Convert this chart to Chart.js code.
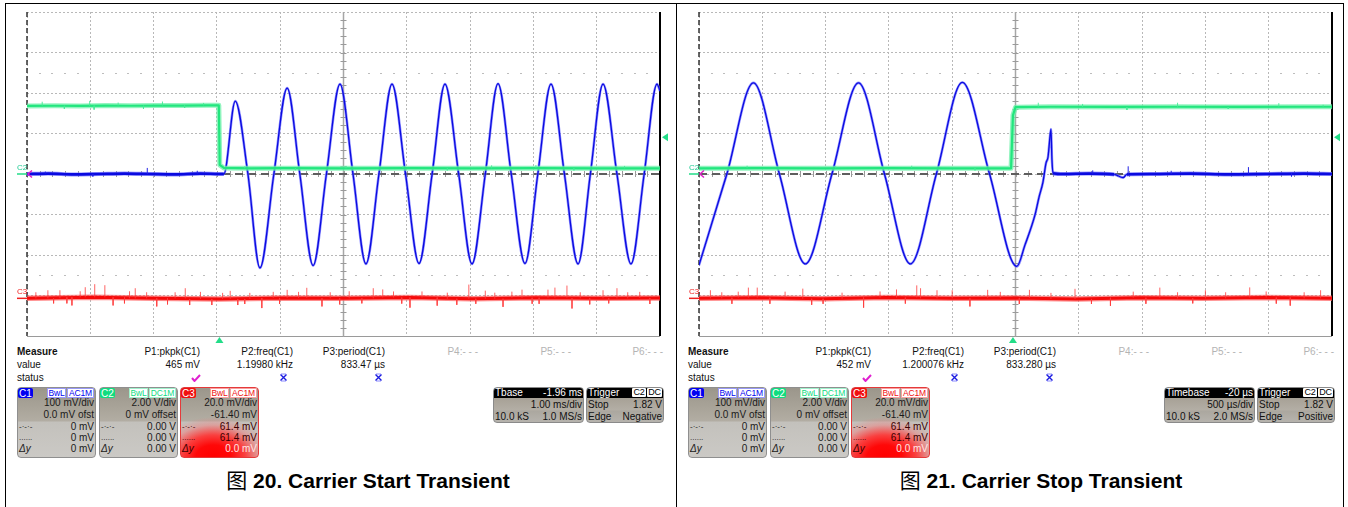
<!DOCTYPE html>
<html><head><meta charset="utf-8">
<script src="https://cdn.jsdelivr.net/npm/chart.js@4.4.1/dist/chart.umd.min.js"></script>
<style>
html,body{margin:0;padding:0;background:#fff}
body{width:1348px;height:507px;position:relative;overflow:hidden;font-family:"Liberation Sans",Arial,sans-serif;color:#111}
.ln{position:absolute;background:#000}
.t{position:absolute;font-size:10px;line-height:12px;white-space:nowrap}
.r{text-align:right}
.box{position:absolute;box-sizing:border-box;border:1.5px solid #8f8f8f;border-radius:4px;overflow:hidden}
.tag{position:absolute;font-size:8.5px;line-height:9px;height:10px;text-align:center;box-sizing:border-box;overflow:hidden;letter-spacing:-0.2px}
canvas{position:absolute}
.cap{position:absolute;top:467px;width:600px;text-align:center;font-size:21px;font-weight:bold;line-height:24px;white-space:nowrap;color:#000}
.cap .zh{font-family:"Noto Sans CJK SC";font-weight:normal}
</style></head><body>
<div class="ln" style="left:5px;top:3px;width:1339px;height:1px"></div>
<div class="ln" style="left:5px;top:3px;width:1px;height:504px"></div>
<div class="ln" style="left:676px;top:3px;width:1px;height:504px"></div>
<div class="ln" style="left:1343px;top:3px;width:1px;height:504px"></div>
<canvas id="scopeStart" width="660" height="341" style="left:12px;top:5px"></canvas>
<canvas id="scopeStop" width="660" height="341" style="left:684px;top:5px"></canvas>
<div id="panels"></div>
<script>
// ---------- channel scales (value -> divisions) ----------
const c1Div = mV => mV / 100;            // C1 100 mV/div, 0 offset
const c2Div = V => V / 2;                // C2 2.00 V/div
const c3Div = mV => (mV - 61.4) / 20;    // C3 20 mV/div, -61.40 mV offset

// ---------- Figure 20: carrier start (time in ms from trigger) ----------
const startRange = [-3.04, 6.96];
const startC1T = [-3.04,-2.7,-2.3,-1.9,-1.5,-1.1,-0.7,-0.3,0.02,0.07,0.25,0.45,0.64,0.86,1.07,1.27,1.48,1.69,1.905,2.11,2.315,2.52,2.726,2.94,3.153,3.36,3.563,3.78,3.99,4.2,4.401,4.61,4.827,5.03,5.238,5.45,5.665,5.86,6.06,6.28,6.502,6.71,6.913,6.96];
const startC1  = [0,1,-1,0,1,0,-1,1,0,0,180,0,-232,0,212,0,-226,0,222,0,-222,0,222,0,-221,0,222,0,-222,0,223,0,-221,0,222,0,-222,0,222,0,-222,0,222,205];
const startC1SpikeT = [-2.75,-2.0,-1.14,-0.35];
const startC1SpikeV = [5,-6,15,7];
const startC2T = [-3.04,-2.6,-2.2,-1.8,-1.4,-1.0,-0.6,-0.2,-0.01,0.005,0.07,0.5,1.0,2.0,3.0,4.0,5.0,6.0,6.96];
const startC2  = [3.36,3.37,3.36,3.38,3.37,3.38,3.38,3.39,3.39,0.45,0.30,0.28,0.29,0.28,0.29,0.28,0.29,0.28,0.28];
const startC2SpikeT = [-2.8,-2.45,-2.05,-1.98,-1.6,-1.2,-0.9,-0.55,-0.25,0.4,1.2,2.0,2.9,3.6,4.3,5.0,5.6,6.4];
const startC2SpikeV = [0.2,-0.15,0.25,-0.2,0.15,-0.15,0.2,-0.12,0.12,0.1,-0.1,0.12,0.1,-0.1,0.15,0.15,-0.1,0.12];
const startC3T = [-3.04,-2,-1,0,1,2,3,4,5,6,6.96];
const startC3  = [0,0.5,0,-0.3,0.2,0,0.4,-0.2,0.3,0,0.2];
const startC3SpikeT = [-2.71,-2.52,-2.41,-2.33,-2.12,-1.97,-1.81,-1.68,-1.33,-0.99,-0.54,-0.47,0.17,0.29,0.48,0.67,1.07,1.38,1.62,1.75,2.43,2.58,3.01,3.44,3.94,4.2,4.48,4.78,4.94,5.19,5.3,5.49,5.57,6.06,6.28,6.64,
  -2.9,-2.62,-2.2,-1.5,-1.42,-1.15,-0.82,-0.7,-0.3,-0.12,0.05,0.4,0.85,0.95,1.25,1.9,2.05,2.25,2.75,2.88,3.2,3.6,3.75,4.05,4.35,4.62,5.05,5.7,5.85,6.15,6.45,6.8];
const startC3SpikeV = [4,4,-3,-4,5,6.5,6,-4,5,-4,5,-3,4,-3,3,-5,4,5,-4,3,5,4,-5,-4,7,4,-4,4,-3,4,5,6,-5,4,5,3,
  3,-2.5,3,-3,3.5,3,-3,3,3.5,-3,3,-2.5,3,-3,3,-3,3.5,-2.5,3,-3,3,3,-3,-2.5,3,3,-3,3,-3,-2.5,3,-3];

// ---------- Figure 21: carrier stop ----------
const stopRange = [-2.48, 2.52];
const stopC1T = [-2.48,-2.26,-2.05,-1.845,-1.64,-1.43,-1.22,-1.015,-0.81,-0.605,-0.4,-0.185,0.03,0.095,0.174,0.206,0.237,0.261,0.277,0.285,0.3,0.308,0.316,0.4,0.6,0.8,0.87,0.9,1.1,1.4,1.7,2.0,2.3,2.52];
const stopC1  = [-225,0,225,0,-222,0,225,0,-222,0,226,0,-228,-175,-101,-57,-20,27,42,67,111,35,2,0,1,-1,-9,-1,0,1,-1,0,1,0];
const stopC1SpikeT = [0.63,0.91,1.25,1.86,2.2];
const stopC1SpikeV = [8,20,8,17,-7];
const stopC2T = [-2.48,-2.0,-1.5,-1.0,-0.5,-0.015,0.0,0.02,0.3,0.8,1.3,1.8,2.3,2.52];
const stopC2  = [0.28,0.29,0.28,0.29,0.28,0.28,2.9,3.3,3.32,3.31,3.32,3.31,3.32,3.32];
const stopC2SpikeT = [-2.1,-1.4,-0.8,-0.3,0.2,0.55,0.9,1.3,1.7,2.1,2.45];
const stopC2SpikeV = [0.12,0.1,0.12,-0.1,0.2,0.15,-0.15,0.2,-0.1,0.18,0.1];
const stopC3T = [-2.48,-2,-1.5,-1,-0.5,0,0.5,1,1.5,2,2.52];
const stopC3  = [0,0.3,-0.2,0.4,0,0.2,-0.3,0.3,0,0.4,0];
const stopC3SpikeT = [-2.39,-2.22,-2.17,-2.09,-2.02,-1.92,-1.66,-1.59,-1.18,-0.92,-0.76,-0.73,-0.6,-0.48,-0.34,-0.2,0.13,0.49,0.77,1.16,1.52,1.87,2.19,2.43,
  -2.3,-1.8,-1.5,-1.35,-1.05,-0.85,-0.1,0.05,0.3,0.62,0.95,1.05,1.3,1.42,1.68,2.0,2.08,2.3];
const stopC3SpikeV = [4,-3,3,5,5,-3,5,-3,-5,4,6,5,4,4,-4,4,4,5,-4,5,4,5,-4,4,
  3,3,-2.5,3,3,-3,3,-3,3,-2.5,3,-3,3,-2.5,3,3,-3,3];

const trigLevelV = 1.82;

// ---------- panel texts ----------
const measureHeads = ['P1:pkpk(C1)','P2:freq(C1)','P3:period(C1)','P4:- - -','P5:- - -','P6:- - -'];
const startMeasureVals = ['465 mV','1.19980 kHz','833.47 µs'];
const stopMeasureVals = ['452 mV','1.200076 kHz','833.280 µs'];
const chanRowLabels = ['','','-·-·-','......','Δy'];
const chanRowsC1 = ['100 mV/div','0.0 mV ofst','0 mV','0 mV','0 mV'];
const chanRowsC2 = ['2.00 V/div','0 mV offset','0.00 V','0.00 V','0.00 V'];
const chanRowsC3 = ['20.0 mV/div','-61.40 mV','61.4 mV','61.4 mV','0.0 mV'];
const startTimebase = ['Tbase','-1.96 ms','1.00 ms/div','10.0 kS','1.0 MS/s'];
const stopTimebase = ['Timebase','-20 µs','500 µs/div','10.0 kS','2.0 MS/s'];
const startTrigger = ['1.82 V','Negative'];
const stopTrigger = ['1.82 V','Positive'];
const captions = ['20. Carrier Start Transient','21. Carrier Stop Transient'];

// ---------- helpers ----------
const pts = (T, V, conv) => T.map((t, i) => ({x: t, y: conv(V[i])}));
function spikes(T, V, bandT, bandV, conv) {
  const out = [];
  T.forEach((t, i) => {
    let j = 0;
    for (let k = 1; k < bandT.length; k++) if (Math.abs(bandT[k] - t) < Math.abs(bandT[j] - t)) j = k;
    const base = bandV[j];
    out.push({x: t, y: conv(base)}, {x: t, y: conv(base + V[i])}, {x: t, y: null});
  });
  return out;
}

const scopeDecor = {
  id: 'scopeDecor',
  beforeDatasetsDraw(chart) {
    const {ctx, chartArea: a, scales: {x, y}} = chart;
    const w = a.right - a.left, h = a.bottom - a.top;
    const cx = x.getPixelForValue((x.min + x.max) / 2);
    const cy = y.getPixelForValue(0);
    ctx.save();
    ctx.fillStyle = '#bdbdbd';
    [2.5, -2.5].forEach(v => {
      const py = Math.round(y.getPixelForValue(v));
      for (let k = 1; k < 50; k++) { if (k % 5 === 0) continue; ctx.fillRect(Math.round(a.left + k * w / 50) - 1, py, 2, 1); }
    });
    ctx.strokeStyle = '#a6a6a6'; ctx.lineWidth = 1.5;
    ctx.beginPath(); ctx.moveTo(cx, a.top); ctx.lineTo(cx, a.bottom); ctx.stroke();
    ctx.lineWidth = 1; ctx.strokeStyle = '#9a9a9a';
    ctx.beginPath();
    for (let k = 1; k < 40; k++) { const py = Math.round(a.top + k * h / 40) + 0.5; ctx.moveTo(cx - 3, py); ctx.lineTo(cx + 3, py); }
    for (let k = 1; k < 50; k++) { const px = Math.round(a.left + k * w / 50) + 0.5; ctx.moveTo(px, cy - 3); ctx.lineTo(px, cy + 3); }
    ctx.stroke();
    ctx.strokeStyle = '#5e5e5e'; ctx.lineWidth = 2; ctx.setLineDash([8, 5]);
    ctx.beginPath(); ctx.moveTo(a.left, cy); ctx.lineTo(a.right, cy); ctx.stroke();
    ctx.strokeStyle = '#333'; ctx.lineWidth = 1.5; ctx.setLineDash([5, 3]);
    ctx.beginPath(); ctx.moveTo(a.left, a.top); ctx.lineTo(a.left, a.bottom); ctx.stroke();
    ctx.setLineDash([]);
    ctx.strokeStyle = '#9a9a9a'; ctx.lineWidth = 1;
    ctx.beginPath(); ctx.moveTo(a.left, Math.round(a.bottom) + 0.5); ctx.lineTo(a.right, Math.round(a.bottom) + 0.5); ctx.stroke();
    ctx.strokeStyle = '#000'; ctx.lineWidth = 2;
    ctx.beginPath(); ctx.moveTo(a.right, a.top); ctx.lineTo(a.right, a.bottom); ctx.stroke();
    ctx.restore();
  },
  afterDatasetsDraw(chart, args, o) {
    const {ctx, chartArea: a, scales: {x, y}} = chart;
    ctx.save();
    const y2 = y.getPixelForValue(o.c2Ground), y3 = y.getPixelForValue(o.c3Ground), y1 = y.getPixelForValue(o.c1Ground);
    ctx.font = '8px "Liberation Sans", Arial';
    ctx.textBaseline = 'middle';
    ctx.fillStyle = '#22cc95'; ctx.fillText('C2', a.left - 10, y2 - 6.5);
    ctx.strokeStyle = '#22dd88'; ctx.lineWidth = 1.5;
    ctx.beginPath(); ctx.moveTo(a.left - 10, y2); ctx.lineTo(a.left, y2); ctx.stroke();
    ctx.fillStyle = '#f02020'; ctx.fillText('C3', a.left - 10, y3 - 6.5);
    ctx.strokeStyle = '#f02020';
    ctx.beginPath(); ctx.moveTo(a.left - 10, y3); ctx.lineTo(a.left, y3); ctx.stroke();
    ctx.strokeStyle = '#e020c8'; ctx.lineWidth = 1.5;
    ctx.beginPath(); ctx.moveTo(a.left + 5, y1 - 3.5); ctx.lineTo(a.left + 1, y1); ctx.lineTo(a.left + 5, y1 + 3.5); ctx.stroke();
    const yt = y.getPixelForValue(o.trigLevel);
    ctx.fillStyle = '#22dd88';
    ctx.beginPath(); ctx.moveTo(a.right + 2, yt); ctx.lineTo(a.right + 8, yt - 4); ctx.lineTo(a.right + 8, yt + 4); ctx.closePath(); ctx.fill();
    const xt = x.getPixelForValue(o.trigTime);
    ctx.beginPath(); ctx.moveTo(xt, a.bottom + 1); ctx.lineTo(xt - 4, a.bottom + 7); ctx.lineTo(xt + 4, a.bottom + 7); ctx.closePath(); ctx.fill();
    ctx.restore();
  }
};

function makeScope(id, range, c1T, c1V, c1sT, c1sV, c2T, c2V, c2sT, c2sV, c3T, c3V, c3sT, c3sV) {
  const thick = (big, small) => c => (Math.abs(c.p0.parsed.y) < 0.06 && Math.abs(c.p1.parsed.y) < 0.06) ? big : small;
  const grid = {color: '#b8b8b8', lineWidth: 1, drawTicks: false};
  const c1 = pts(c1T, c1V, c1Div), c2 = pts(c2T, c2V, c2Div), c3 = pts(c3T, c3V, c3Div);
  return new Chart(document.getElementById(id), {
    type: 'line',
    data: {datasets: [
      {data: spikes(c2sT, c2sV, c2T, c2V, c2Div), borderColor: 'rgba(70,235,150,0.9)', borderWidth: 1, spanGaps: false},
      {data: c2, borderColor: '#22e67e', borderWidth: 2.2},
      {data: c2, borderColor: 'rgba(110,240,170,0.75)', borderWidth: 5},
      {data: spikes(c1sT, c1sV, c1T, c1V, c1Div), borderColor: '#2222e6', borderWidth: 1, spanGaps: false},
      {data: c1, borderColor: '#0a0ae0', borderWidth: 1.3, cubicInterpolationMode: 'monotone', segment: {borderWidth: thick(2.6, 1.3)}},
      {data: c1, borderColor: 'rgba(110,110,255,0.75)', borderWidth: 2.6, cubicInterpolationMode: 'monotone', segment: {borderWidth: thick(4, 2.6)}},
      {data: spikes(c3sT, c3sV, c3T, c3V, c3Div), borderColor: 'rgba(255,60,60,0.8)', borderWidth: 1, spanGaps: false},
      {data: c3, borderColor: '#f50a0a', borderWidth: 3},
      {data: c3, borderColor: 'rgba(255,90,90,0.7)', borderWidth: 5.5}
    ]},
    options: {
      responsive: false, animation: false, devicePixelRatio: 1, events: [],
      layout: {padding: {left: 15, right: 12, top: 7, bottom: 10}},
      plugins: {legend: {display: false}, tooltip: {enabled: false},
        scopeDecor: {c1Ground: c1Div(0), c2Ground: c2Div(0), c3Ground: c3Div(0), trigLevel: c2Div(trigLevelV), trigTime: 0}},
      elements: {point: {radius: 0}, line: {tension: 0, borderJoinStyle: 'round', borderCapStyle: 'butt'}},
      scales: {
        x: {type: 'linear', min: range[0], max: range[1],
            afterBuildTicks: s => { s.ticks = Array.from({length: 11}, (_, i) => ({value: range[0] + i * (range[1] - range[0]) / 10})); },
            ticks: {display: false}, grid, border: {display: false, dash: [2, 2]}},
        y: {type: 'linear', min: -4, max: 4, ticks: {display: false, stepSize: 1}, grid, border: {display: false, dash: [2, 2]}}
      }
    },
    plugins: [scopeDecor]
  });
}

makeScope('scopeStart', startRange, startC1T, startC1, startC1SpikeT, startC1SpikeV, startC2T, startC2, startC2SpikeT, startC2SpikeV, startC3T, startC3, startC3SpikeT, startC3SpikeV);
makeScope('scopeStop', stopRange, stopC1T, stopC1, stopC1SpikeT, stopC1SpikeV, stopC2T, stopC2, stopC2SpikeT, stopC2SpikeV, stopC3T, stopC3, stopC3SpikeT, stopC3SpikeV);

// ---------- panels ----------
const T = (x, yc, s, st = '') => `<div class="t" style="left:${x}px;top:${yc - 6}px;${st}">${s}</div>`;
const TR = (xr, yc, s, st = '') => `<div class="t r" style="left:${xr - 150}px;width:150px;top:${yc - 6}px;${st}">${s}</div>`;
const grayBg = 'linear-gradient(to bottom,#9b968b 0px,#a9a499 20px,#b2ada3 33px,#c3c1bc 34px,#cbc9c5 100%)';
const redBg = 'radial-gradient(ellipse 58px 40px at 42% 100%,#ff0000 0%,#ff0808 30%,rgba(255,50,50,.9) 55%,rgba(245,120,120,.45) 80%,rgba(240,150,150,0) 100%),' + grayBg;
const checkIcon = (x, y) => `<svg style="position:absolute;left:${x}px;top:${y}px" width="10" height="8"><path d="M1,4 L3.5,7 L9,1" stroke="#e020d0" stroke-width="2" fill="none"/></svg>`;
const xIcon = (x, y) => `<svg style="position:absolute;left:${x}px;top:${y}px" width="9" height="9"><path d="M2,1 H7 M2,8 H7" stroke="#8a8aff" stroke-width="1" fill="none"/><path d="M1.5,1.5 L7.5,7.5 M7.5,1.5 L1.5,7.5" stroke="#1a1ae0" stroke-width="1.4" fill="none"/></svg>`;

function chanBox(x, name, col, coupling, rows, hot) {
  let h = `<div class="box" style="left:${x}px;top:387px;width:79px;height:71px;border-color:${hot ? '#e43a3a' : '#8f8f8f'};background:${hot ? redBg : grayBg}">`;
  h += `<div class="tag" style="left:0px;top:0px;width:15px;background:${col};color:#fff;border-radius:2px;font-size:10px;letter-spacing:0;padding-top:0.5px">${name}</div>`;
  h += `<div class="tag" style="left:29px;top:0px;width:19px;background:#fff;color:${col};border:1px solid ${col}66">BwL</div>`;
  h += `<div class="tag" style="left:49px;top:0px;width:27px;background:#fff;color:${col};border:1px solid ${col}66">${coupling}</div>`;
  const tops = [9, 21, 33, 44, 55];
  rows.forEach((s, i) => {
    let c = '#1a1a1a';
    if (hot && i >= 2) c = i === 4 ? '#ffe6e6' : '#3a0000';
    h += `<div class="t r" style="right:1px;top:${tops[i]}px;color:${c}">${s}</div>`;
    if (chanRowLabels[i]) h += `<div class="t" style="left:1px;top:${tops[i]}px;color:${hot ? '#3a0000' : '#1a1a1a'};${i === 4 ? 'font-style:italic' : 'font-size:8px'}">${chanRowLabels[i]}</div>`;
  });
  return h + '</div>';
}

function infoBox(x, w, head, rows, tags) {
  let h = `<div class="box" style="left:${x}px;top:387px;width:${w}px;height:36px;border-color:#8a8a8a;background:linear-gradient(to bottom,#000 0px,#000 10px,#a7a196 10px,#b3aea5 22px,#aba79f 23px,#b6b3ad 100%)">`;
  h += `<div class="t" style="left:1px;top:-1px;color:#fff">${head[0]}</div>`;
  if (head[1]) h += `<div class="t r" style="right:1px;top:-1px;color:#fff">${head[1]}</div>`;
  if (tags) {
    h += `<div class="tag" style="left:45px;top:0px;width:14px;height:9px;background:#fff;color:#000;border-radius:1px;font-size:9px">${tags[0]}</div>`;
    h += `<div class="tag" style="left:60px;top:0px;width:15px;height:9px;background:#fff;color:#000;border-radius:1px;font-size:9px">${tags[1]}</div>`;
  }
  rows.forEach((r, i) => {
    const top = i === 0 ? 10.5 : 22.5;
    if (r[0]) h += `<div class="t" style="left:1px;top:${top}px">${r[0]}</div>`;
    h += `<div class="t r" style="right:1px;top:${top}px">${r[1]}</div>`;
  });
  return h + '</div>';
}

function panel(ox, vals, tb, trig, cap, capCenter) {
  let h = '';
  h += T(ox + 17, 352, 'Measure', 'font-weight:bold');
  h += T(ox + 17, 365, 'value') + T(ox + 17, 378, 'status');
  const rx = [200, 293, 385, 478, 571, 663];
  measureHeads.forEach((s, i) => h += TR(ox + rx[i], 352, s, i > 2 ? 'color:#b4b4b4' : ''));
  vals.forEach((s, i) => h += TR(ox + rx[i], 365, s));
  h += checkIcon(ox + 191, 374) + xIcon(ox + 279, 373) + xIcon(ox + 374, 373);
  h += chanBox(ox + 17, 'C1', '#0000f0', 'AC1M', chanRowsC1, false);
  h += chanBox(ox + 99, 'C2', '#10dc80', 'DC1M', chanRowsC2, false);
  h += chanBox(ox + 180, 'C3', '#f01010', 'AC1M', chanRowsC3, true);
  h += infoBox(ox + 493, 91, [tb[0], tb[1]], [['', tb[2]], [tb[3], tb[4]]], null);
  h += infoBox(ox + 586, 78, ['Trigger', ''], [['Stop', trig[0]], ['Edge', trig[1]]], ['C2', 'DC']);
  h += `<div class="cap" style="left:${capCenter - 300}px"><span class="zh">图</span> ${cap}</div>`;
  return h;
}

document.getElementById('panels').innerHTML =
  panel(0, startMeasureVals, startTimebase, startTrigger, captions[0], 368) +
  panel(671, stopMeasureVals, stopTimebase, stopTrigger, captions[1], 1041);
</script>
</body></html>
